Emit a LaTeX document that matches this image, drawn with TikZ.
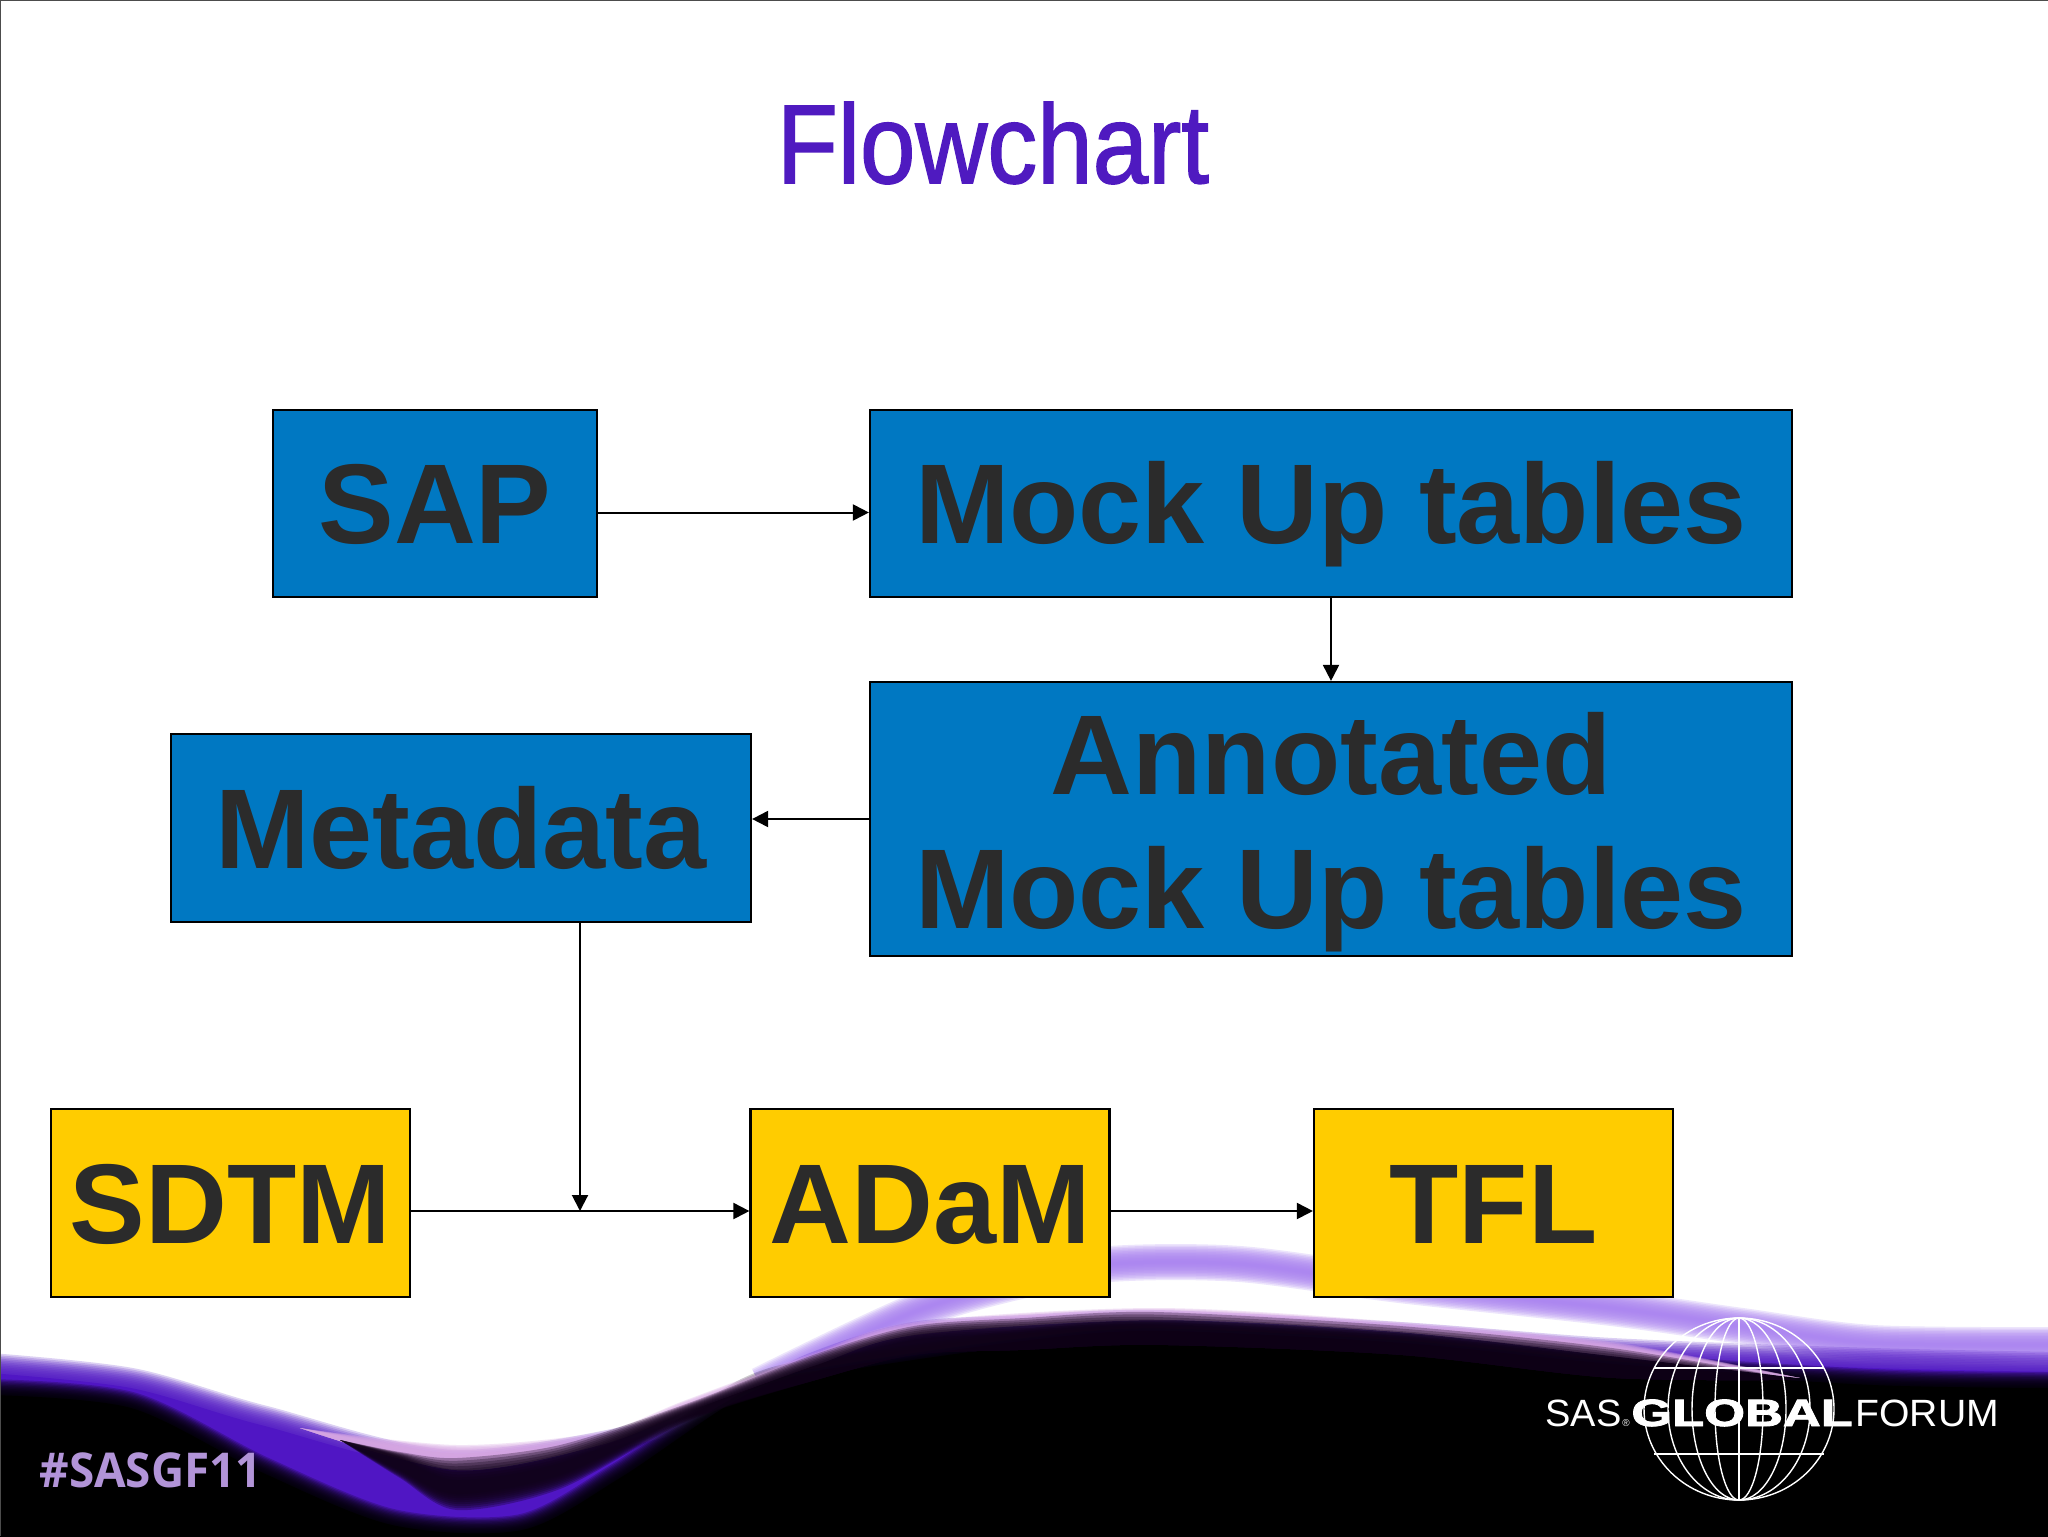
\documentclass[tikz,border=0pt]{standalone}
\usepackage{fontspec}
\setmainfont{Liberation Sans}
\newfontfamily\tagfont{Open Sans}
\newfontfamily\titlefont{Liberation Sans}[FakeBold=1.4]
\newfontfamily\heavyfont{Liberation Sans}[BoldFeatures={FakeBold=2}]
\usetikzlibrary{arrows.meta}
\definecolor{box blue}{HTML}{0078C2}
\definecolor{box yellow}{HTML}{FFCC00}
\definecolor{box text}{HTML}{2B2B2B}
\definecolor{title violet}{HTML}{4F1AC0}
\definecolor{wave violet}{HTML}{5016C4}
\definecolor{wave lilac}{HTML}{A880F0}
\definecolor{wave pink}{HTML}{D8A8E4}
\definecolor{wave dark}{HTML}{100218}
\definecolor{tag lilac}{HTML}{B294D8}
\tikzset{
every box/.style = { draw = black, line width = 1.1pt, inner sep = 0pt, text = box text, font = \fontsize{56.7}{67}\selectfont\bfseries, align = center },
blue box/.style = { every box, fill = box blue },
yellow box/.style = { every box, fill = box yellow, minimum width = 179.5pt, minimum height = 94pt },
one line/.style = { text height = 40pt, text depth = 0pt },
flow/.style = { draw = black, line width = 1pt, -{Triangle[length = 8pt, width = 8pt]} },
logo/.style = { text = white, inner sep = 0pt, anchor = base west, font = \fontsize{19}{19}\selectfont },
}
% soft line: many see-through strokes, narrower ones on top
\newcommand{\softline}[3]{
  \foreach \k in {12, 11, ..., 1} {
    \draw[draw = #2, draw opacity = 0.2, line width = \k * #3 / 12, line join = round] plot[smooth] coordinates {#1};
  }
}
\begin{document}
\begin{tikzpicture}[x = 0.5pt, y = -0.5pt]
  \useasboundingbox (0, 0) rectangle (2048, 1536);
  \fill[white] (0, 0) rectangle (2048, 1536);
  \begin{scope}
    \clip (0, 0) rectangle (2048, 1536);
    \softline{(760,1385) (914,1312) (1024,1280) (1110,1264) (1240,1264) (1400,1285) (1612,1308) (1742,1326) (1873,1343) (2060,1345)}{wave lilac}{18pt}
    \softline{(-10,1373) (131,1388) (261,1425) (457,1470) (686,1432) (816,1372) (914,1342) (1024,1335) (1155,1330) (1400,1342) (1612,1358) (1873,1368) (2060,1372)}{wave violet}{20pt}
    \fill[wave violet] plot[smooth] coordinates {(-10,1373) (131,1388) (261,1425) (457,1470) (686,1432) (816,1372) (914,1342) (1024,1335) (1155,1330) (1400,1342) (1612,1358) (1873,1368) (2060,1372)} -- (2060, 1546) -- (-10, 1546) -- cycle;
    \softline{(-10,1395) (131,1408) (261,1472) (392,1525) (522,1530) (620,1478) (751,1392) (849,1370) (1024,1345) (1155,1335) (1400,1347) (1612,1368) (1873,1385) (2060,1388)}{black}{16pt}
    \fill[black] plot[smooth] coordinates {(-10,1395) (131,1408) (261,1472) (392,1525) (522,1530) (620,1478) (751,1392) (849,1370) (1024,1345) (1155,1335) (1400,1347) (1612,1368) (1873,1385) (2060,1388)} -- (2060, 1546) -- (-10, 1546) -- cycle;
    % pink and dark bands inside the wave, thin at both ends
    \foreach \t in {0, 0.125, ..., 1} {
      \fill[wave pink, fill opacity = 0.3] plot[smooth] coordinates {(300,1428) (457,1445+10*\t) (600,1432+10*\t) (686,1400+8*\t) (816,1352+8*\t) (914,1322+8*\t) (1155,1308+8*\t) (1400,1322+8*\t) (1612,1342+6*\t) (1800,1378)} -- plot[smooth] coordinates {(1800,1378) (1612,1356) (1400,1332) (1155,1320) (914,1335) (816,1365) (686,1412) (600,1445) (457,1470) (300,1428)} -- cycle;
    }
    \foreach \t in {0, 0.125, ..., 1} {
      \fill[wave dark, fill opacity = 0.3] plot[smooth] coordinates {(340,1440) (400,1452+6*\t) (457,1458+22*\t) (560,1445+18*\t) (686,1404+8*\t) (816,1354+12*\t) (914,1326+14*\t) (1024,1318+16*\t) (1155,1312+20*\t) (1400,1326+20*\t) (1612,1348+16*\t) (1800,1380)} -- plot[smooth] coordinates {(1800,1380) (1612,1378) (1400,1355) (1155,1345) (1024,1350) (914,1355) (816,1380) (686,1422-5*\t) (560,1489-14*\t) (457,1510-16*\t) (400,1478-8*\t) (340,1440)} -- cycle;
    }
  \end{scope}
  % frame of the slide
  \draw[black!70, line width = 1pt] (0, 0) -- (2048, 0) (0, 0) -- (0, 1536);

  \node[text = title violet, font = \fontsize{56}{56}\selectfont\titlefont, inner sep = 0pt, anchor = base] (title) at (993, 183) {\scalebox{0.89}[1]{Flowchart}};

  \node[blue box, one line, minimum width = 162pt, minimum height = 93.5pt] (sap) at (435, 503.5) {SAP};
  \node[blue box, one line, minimum width = 461pt, minimum height = 93.5pt] (mock) at (1331, 503.5) {Mock Up tables};
  \node[blue box, minimum width = 461pt, minimum height = 137pt] (annotated) at (1331, 819) {\rule{0pt}{54pt}Annotated\\Mock Up tables};
  \node[blue box, one line, minimum width = 290pt, minimum height = 94pt] (metadata) at (461, 828) {Metadata};
  \node[yellow box, one line] (sdtm) at (230.5, 1203) {SDTM};
  \node[yellow box, one line] (adam) at (930, 1203) {ADaM};
  \node[yellow box, one line] (tfl) at (1493.5, 1203) {TFL};

  \coordinate (merge) at (580, 1211);
  \path[flow] ([yshift = -4.5pt] sap.east) -- ([yshift = -4.5pt] mock.west);
  \path[flow] (mock.south) -- (annotated.north);
  \path[flow] (annotated.west) -- (annotated.west -| metadata.east);
  \path[flow] (metadata.south -| merge) -- (merge);
  \path[flow] ([yshift = -4pt] sdtm.east) -- ([yshift = -4pt] adam.west);
  \path[flow] ([yshift = -4pt] adam.east) -- ([yshift = -4pt] tfl.west);

  % globe of the logo
  \begin{scope}[white, line width = 0.7pt]
    \draw (1739, 1409) ellipse [x radius = 95, y radius = 91];
    \foreach \rx in {71, 47, 24} {
      \draw (1739, 1409) ellipse [x radius = \rx, y radius = 91];
    }
    \draw (1739, 1318) -- (1739, 1500);
    \draw (1654, 1368) -- (1824, 1368);
    \draw (1654, 1454) -- (1824, 1454);
  \end{scope}
  \node[logo] (sas) at (1545, 1426) {SAS};
  \node[logo, font = \fontsize{5}{5}\selectfont] (reg) at (1622, 1426) {®};
  \node[logo, font = \fontsize{19}{19}\selectfont\heavyfont\bfseries] (global) at (1631, 1426) {\scalebox{1.38}[1]{GLOBAL}};
  \node[logo] (forum) at (1855, 1426) {\scalebox{1.03}[1]{FORUM}};
  \node[text = tag lilac, inner sep = 0pt, anchor = base west, font = \fontsize{24}{24}\selectfont\tagfont\bfseries] (tag) at (39, 1487) {\scalebox{0.955}[1]{\#SASGF11}};
\end{tikzpicture}
\end{document}
